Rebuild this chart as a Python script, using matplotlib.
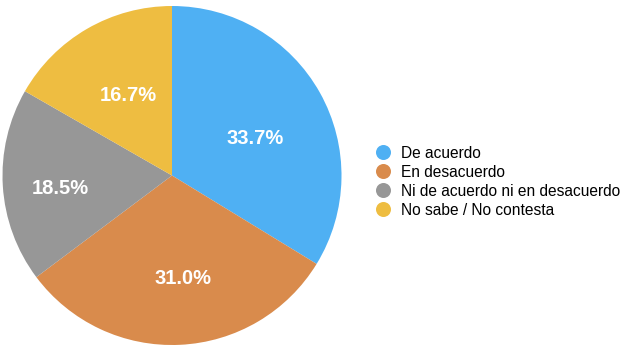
import numpy as np
import matplotlib.pyplot as plt
from matplotlib.lines import Line2D

plt.rcParams['font.family'] = ['Liberation Sans', 'DejaVu Sans']

# datos
categorias = ['De acuerdo', 'En desacuerdo', 'Ni de acuerdo ni en desacuerdo', 'No sabe / No contesta']
valores = [33.7, 31.0, 18.5, 16.7]
colores = ['#4FB0F3', '#D98B4C', '#979797', '#EEBD41']

# colocación de las etiquetas de porcentaje (radio relativo, giro en grados)
etiq_r = [0.54, 0.60, 0.66, 0.55]
etiq_giro = [-4.0, 3.6, 2.0, -2.0]

fig = plt.figure(figsize=(6.27, 3.53), dpi=100)
ax = fig.add_axes([2.5 / 627, 8 / 353, 339 / 627, 339 / 353])

wedges, textos = ax.pie(valores, colors=colores, startangle=90, counterclock=False,
                        radius=1, wedgeprops=dict(linewidth=0))
for w, v, r, g in zip(wedges, valores, etiq_r, etiq_giro):
    ang = np.deg2rad((w.theta1 + w.theta2) / 2 + g)
    ax.text(r * np.cos(ang), r * np.sin(ang), f'{v:.1f}%', color='white',
            fontsize=14.5, fontweight='bold', ha='center', va='center_baseline')
ax.set_xlim(-1, 1)
ax.set_ylim(-1, 1)
ax.set_aspect('equal')

handles = [Line2D([], [], marker='o', linestyle='', markersize=10.8,
                  markerfacecolor=c, markeredgewidth=0) for c in colores]
fig.legend(handles, categorias, loc='center left', bbox_to_anchor=(374.8 / 627, 0.4853),
           frameon=False, fontsize=11.2, handletextpad=0.69, labelspacing=0.25,
           handlelength=1.0, borderpad=0, borderaxespad=0)

fig.savefig('out.png', dpi=100)
